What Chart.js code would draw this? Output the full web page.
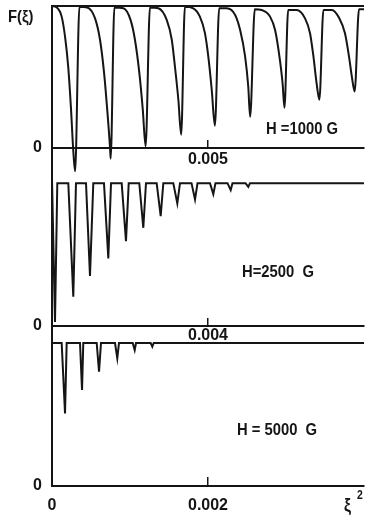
<!DOCTYPE html>
<html>
<head>
<meta charset="utf-8">
<script src="https://cdn.jsdelivr.net/npm/chart.js@4.4.1/dist/chart.umd.min.js"></script>
<style>
  html, body { margin: 0; padding: 0; background: #fff; }
  #wrap { position: relative; width: 365px; height: 519px; background: #fff; overflow: hidden; }
  #wrap canvas { position: absolute; left: 0; }
</style>
</head>
<body>
<div id="wrap">
  <canvas id="p1" width="365" height="180" style="top:0px"></canvas>
  <canvas id="p2" width="365" height="174" style="top:176px"></canvas>
  <canvas id="p3" width="365" height="181" style="top:338px"></canvas>
</div>
<script>
// values: x = xi^2, y = F(xi)

// H = 1000 G
const xiSq1000 = [
  0, 0.00015, 0.00031, 0.00042, 0.00052, 0.00061, 0.00068, 0.00074,
  0.00088, 0.00113, 0.00138, 0.00154, 0.00167, 0.00177, 0.00186, 0.00188,
  0.00200, 0.00229, 0.00252, 0.00266, 0.00280, 0.00291, 0.00300,
  0.00314, 0.00341, 0.00368, 0.00384, 0.00394, 0.00405, 0.00414,
  0.00426, 0.00453, 0.00474, 0.00490, 0.00501, 0.00512, 0.00522,
  0.00536, 0.00560, 0.00587, 0.00603, 0.00619, 0.00629, 0.00635,
  0.00650, 0.00672, 0.00699, 0.00715, 0.00729, 0.00739, 0.00745,
  0.00757, 0.00784, 0.00811, 0.00827, 0.00838, 0.00848, 0.00857,
  0.00870, 0.00897, 0.00921, 0.00939, 0.00952, 0.00961, 0.00970,
  0.00984, 0.01000
];
const f1000 = [
  1.00, 0.99, 0.925, 0.78, 0.57, 0.27, -0.015, -0.167,
  0.995, 0.99, 0.913, 0.76, 0.526, 0.268, 0.0, -0.077,
  0.99, 0.984, 0.90, 0.76, 0.526, 0.268, 0.009,
  0.99, 0.984, 0.90, 0.76, 0.573, 0.338, 0.092,
  0.995, 0.984, 0.925, 0.81, 0.643, 0.408, 0.155,
  0.984, 0.984, 0.937, 0.83, 0.643, 0.432, 0.218,
  0.977, 0.972, 0.925, 0.83, 0.643, 0.456, 0.282,
  0.972, 0.972, 0.913, 0.808, 0.643, 0.456, 0.338,
  0.972, 0.972, 0.913, 0.808, 0.643, 0.502, 0.396,
  0.977, 0.977
];
const unityX1000 = [0, 0.01];
const unityF1000 = [1, 1];

// H = 2500 G
const xiSq2500 = [
  0, 0.000077, 0.000136,
  0.000418, 0.000546, 0.000615,
  0.000872, 0.000974, 0.001059,
  0.001333, 0.001444, 0.001513,
  0.001787, 0.001897, 0.001967,
  0.002238, 0.002341, 0.002410,
  0.002684, 0.002787, 0.002854,
  0.003110, 0.003213, 0.003282,
  0.003577, 0.003667, 0.003731,
  0.004051, 0.004136, 0.004192,
  0.004500, 0.004582, 0.004628,
  0.004962, 0.005033, 0.005077,
  0.008
];
const f2500 = [
  1.028, 0.028, 1.0,
  1.0, 0.205, 1.0,
  1.0, 0.35, 1.0,
  1.0, 0.473, 1.0,
  1.0, 0.594, 1.0,
  1.0, 0.687, 1.0,
  1.0, 0.769, 1.0,
  1.0, 0.858, 1.0,
  1.0, 0.886, 1.0,
  1.0, 0.923, 1.0,
  1.0, 0.951, 1.0,
  1.0, 0.974, 1.0,
  1.0
];

// H = 5000 G
const xiSq5000 = [
  0,
  0.000124, 0.000167, 0.000188,
  0.000359, 0.000385, 0.000401,
  0.000573, 0.000603, 0.000628,
  0.000808, 0.000837, 0.000859,
  0.001035, 0.001060, 0.001077,
  0.001265, 0.001286, 0.001304,
  0.004
];
const f5000 = [
  1.0,
  1.0, 0.508, 1.0,
  1.0, 0.671, 1.0,
  1.0, 0.80, 1.0,
  1.0, 0.893, 1.0,
  1.0, 0.951, 1.0,
  1.0, 0.974, 1.0,
  1.0
];

const ticks1000 = [0.005];
const ticks2500 = [0.004];
const ticks5000 = [0, 0.002];

const INK = '#151515';
const FONT = "'Liberation Sans', Arial, sans-serif";
Chart.defaults.font.family = FONT;
Chart.defaults.font.size = 16;
Chart.defaults.font.weight = 'bold';
Chart.defaults.color = INK;

function zip(xs, ys) {
  return xs.map((x, i) => ({ x: x, y: ys[i] }));
}

// free text on the canvas (panel captions, axis names), squeezed a bit like the print
const textPlugin = {
  id: 'panelText',
  afterDraw(chart, args, opts) {
    const ctx = chart.ctx;
    (opts.items || []).forEach(it => {
      ctx.save();
      ctx.fillStyle = INK;
      ctx.textBaseline = 'middle';
      ctx.font = 'bold ' + (it.size || 17) + 'px ' + FONT;
      ctx.textAlign = it.align || 'center';
      ctx.translate(it.x, it.y);
      ctx.scale(0.87, 1);
      ctx.fillText(it.text, 0, 0);
      ctx.restore();
    });
  }
};

function makePanel(id, cfg) {
  return new Chart(document.getElementById(id), {
    type: 'line',
    data: {
      datasets: cfg.series.map(s => ({
        data: zip(s.x, s.y),
        borderColor: INK,
        borderWidth: 2,
        pointRadius: 0,
        tension: 0,
        cubicInterpolationMode: s.smooth ? 'monotone' : 'default',
        fill: false,
        clip: false
      }))
    },
    options: {
      responsive: false,
      animation: false,
      events: [],
      layout: { padding: cfg.padding },
      plugins: {
        legend: { display: false },
        tooltip: { enabled: false },
        panelText: { items: cfg.texts }
      },
      scales: {
        x: {
          type: 'linear',
          min: 0,
          max: cfg.xMax,
          position: cfg.xPos,
          afterBuildTicks: s => { s.ticks = cfg.xTicks.map(v => ({ value: v })); },
          afterFit: s => {
            if (cfg.xHeight !== undefined) s.height = cfg.xHeight;
            s.paddingLeft = 0; s.paddingRight = 0;
          },
          ticks: { padding: cfg.xPad, maxRotation: 0, autoSkip: false, callback: v => String(v) },
          grid: { drawOnChartArea: false, drawTicks: true, tickLength: -9, color: INK, lineWidth: 1.5 },
          border: { display: true, color: INK, width: 2 }
        },
        y: {
          type: 'linear',
          min: cfg.yMin,
          max: cfg.yMax,
          afterBuildTicks: s => { s.ticks = [{ value: 0 }]; },
          afterFit: s => { s.width = 52; s.paddingTop = 0; s.paddingBottom = 0; },
          ticks: { padding: 10, callback: () => '0' },
          grid: { drawOnChartArea: false, drawTicks: false },
          border: { display: true, color: INK, width: 2 }
        }
      }
    },
    plugins: [textPlugin]
  });
}

makePanel('p1', {
  series: [
    { x: unityX1000, y: unityF1000 },
    { x: xiSq1000, y: f1000, smooth: true }
  ],
  padding: { top: 6, bottom: 4, left: 0, right: 1 },
  xMax: 0.01, xPos: { y: 0 }, xTicks: ticks1000, xPad: 11,
  yMin: -0.2, yMax: 1,
  texts: [
    { text: 'F(\u03be)', x: 8, y: 17, align: 'left' },
    { text: 'H =1000 G', x: 302, y: 129 }
  ]
});

makePanel('p2', {
  series: [{ x: xiSq2500, y: f2500 }],
  padding: { top: 0, bottom: 12, left: 0, right: 1 },
  xMax: 0.008, xPos: { y: 0 }, xTicks: ticks2500, xPad: 9,
  yMin: -0.085, yMax: 1.05,
  texts: [
    { text: 'H=2500  G', x: 278, y: 96 }
  ]
});

makePanel('p3', {
  series: [{ x: xiSq5000, y: f5000 }],
  padding: { top: 0, bottom: 0, left: 0, right: 1 },
  xMax: 0.004, xPos: 'bottom', xTicks: ticks5000, xPad: 19, xHeight: 33,
  yMin: 0, yMax: 1.035,
  texts: [
    { text: 'H = 5000  G', x: 277, y: 92 },
    { text: '\u03be', x: 344, y: 168, align: 'left', size: 18 },
    { text: '2', x: 357, y: 158, align: 'left', size: 12 }
  ]
});
</script>
</body>
</html>
